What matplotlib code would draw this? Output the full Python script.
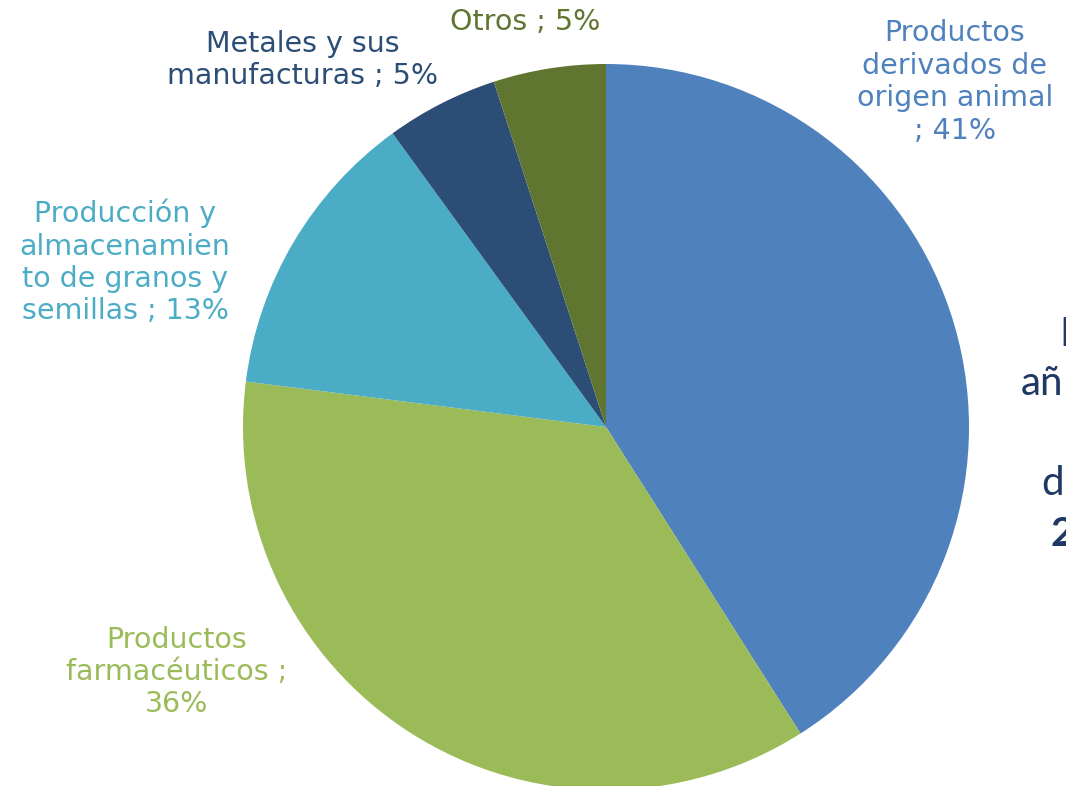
import matplotlib
matplotlib.use("Agg")
import matplotlib.pyplot as plt

# sectors, clockwise from the top
sectors = ["Productos\nderivados de\norigen animal\n; 41%",
           "Productos\nfarmacéuticos ;\n36%",
           "Producción y\nalmacenamien\nto de granos y\nsemillas ; 13%",
           "Metales y sus\nmanufacturas ; 5%",
           "Otros ; 5%"]
shares = [41, 36, 13, 5, 5]
colors = ["#4F81BD", "#9BBB59", "#4BACC6", "#2C4D75", "#5F7530"]

# title on the right edge, cropped in the original
title_lines = ["E", "añ", "", "d", "2"]

plt.rcParams['font.family'] = ['DejaVu Sans']

W, H = 1066, 786
cx, cy, R = 606, 427, 363

fig = plt.figure(figsize=(W / 100, H / 100), dpi=100)
ax = fig.add_axes([(cx - R) / W, (H - cy - R) / H, 2 * R / W, 2 * R / H])
ax.pie(shares, colors=colors, startangle=90, counterclock=False, radius=1,
       wedgeprops=dict(linewidth=0))
ax.set_xlim(-1, 1)
ax.set_ylim(-1, 1)
ax.set_aspect('equal')
ax.axis('off')


def px(x, y):
    return (x - cx) / R, (cy - y) / R


label_pos = [(955, 82), (177, 672), (125, 262), (303, 60), (525, 22)]
for lab, (x, y), c in zip(sectors, label_pos, colors):
    dx, dy = px(x, y)
    ax.text(dx, dy, lab, color=c, fontsize=20.5, ha='center', va='center',
            linespacing=1.2, clip_on=False)

# partial title lines
title_x = [1059, 1021, 0, 1041, 1050]
title_y = [334, 384, 434, 484, 534]
for t, x, y in zip(title_lines, title_x, title_y):
    if not t:
        continue
    fig.text(x / W, 1 - y / H, t, color="#1F3864", fontsize=29,
             family=['Lato', 'DejaVu Sans'], ha='left', va='center',
             fontweight='bold' if t[0].isdigit() else 'normal')

fig.savefig("out.png", dpi=100)
